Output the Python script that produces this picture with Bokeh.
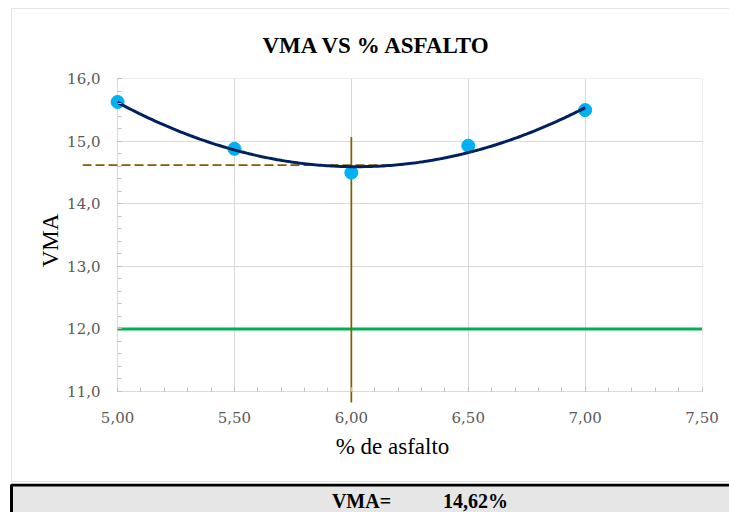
import numpy as np
from bokeh.plotting import figure
from bokeh.layouts import column
from bokeh.models import SingleIntervalTicker, Title
from bokeh.core.properties import value
from bokeh.embed import file_html
from bokeh.resources import INLINE

# ---------------- data ----------------
asfalto = [5.0, 5.5, 6.0, 6.5, 7.0]
vma = [15.63, 14.88, 14.50, 14.93, 15.50]
vma_optimo = 14.62
asfalto_optimo = 6.0
vma_minimo = 12.0
guia_h_x = [4.85, 6.24]      # extent of dashed guide line
guia_v_y = [10.80, 15.07]    # extent of vertical guide line
x_ticks = [5.0, 5.5, 6.0, 6.5, 7.0, 7.5]
x_tick_labels = ["5,00", "5,50", "6,00", "6,50", "7,00", "7,50"]
y_ticks = [11, 12, 13, 14, 15, 16]
y_tick_labels = ["11,0", "12,0", "13,0", "14,0", "15,0", "16,0"]

# polynomial (2nd order) trendline of the measured points
coef = np.polyfit(asfalto, vma, 2)
xs = np.linspace(min(asfalto), max(asfalto), 200)
ys = np.polyval(coef, xs)

SERIF = "Liberation Serif"
TICKFONT = "DejaVu Serif"
GRID = "#D9D9D9"
TICK = "#BFBFBF"

p = figure(width=717, height=472,
           x_range=(4.85, 7.502), y_range=(10.824, 16.005),
           output_backend="svg", toolbar_location=None,
           min_border_left=70, min_border_right=27,
           min_border_top=69, min_border_bottom=79,
           margin=(9, 0, 2, 12), frame_align=False)
p.outline_line_color = None
p.background_fill_color = "white"
p.border_fill_color = "white"
p.styles = {"outline": "1px solid #E3E3E3"}

p.title = Title(text="VMA VS % ASFALTO", align="left", offset=180, standoff=41,
                text_font=SERIF, text_font_size="23px", text_font_style="bold",
                text_color="black")

xa = p.xaxis[0]
xa.ticker = SingleIntervalTicker(interval=0.5, num_minor_ticks=5)
xa.bounds = (x_ticks[0], x_ticks[-1])
xa.major_label_overrides = dict(zip(x_ticks, x_tick_labels))
xa.axis_label = "% de asfalto"
xa.major_tick_out = -11
xa.major_tick_in = 15
xa.minor_tick_out = -11
xa.minor_tick_in = 15
xa.major_label_standoff = 20
xa.axis_label_standoff = 8

ya = p.yaxis[0]
ya.ticker = SingleIntervalTicker(interval=1, num_minor_ticks=5)
ya.bounds = (y_ticks[0], y_ticks[-1])
ya.major_label_overrides = dict(zip(y_ticks, y_tick_labels))
ya.axis_label = "VMA"
ya.major_tick_out = -35
ya.major_tick_in = 39
ya.minor_tick_out = -35
ya.minor_tick_in = 39
ya.major_label_standoff = 17
ya.axis_label_standoff = 1

for ax in (xa, ya):
    ax.axis_line_color = None
    ax.major_tick_line_color = TICK
    ax.minor_tick_line_color = TICK
    ax.major_label_text_font = TICKFONT
    ax.major_label_text_font_size = "15px"
    ax.major_label_text_color = "#595959"
    ax.axis_label_text_font = SERIF
    ax.axis_label_text_font_size = "23px"
    ax.axis_label_text_font_style = "normal"
    ax.axis_label_text_color = "black"

p.xgrid.grid_line_color = GRID
p.ygrid.grid_line_color = GRID
p.xgrid.cross_bounds = (y_ticks[0], y_ticks[-1])
p.ygrid.cross_bounds = (x_ticks[0], x_ticks[-1])

# minimum VMA line
p.line(x=[x_ticks[0], x_ticks[-1]], y=[vma_minimo, vma_minimo],
       line_color="#00B050", line_width=3)
# guide lines
p.line(x=guia_h_x, y=[vma_optimo, vma_optimo], line_color="#7F6000",
       line_width=1.75, line_dash="9 4")
p.line(x=[asfalto_optimo, asfalto_optimo], y=guia_v_y, line_color="#7F6000",
       line_width=1.75)
# measured points
p.scatter(x=asfalto, y=vma, size=13, fill_color="#00B0F0", line_color="#00B0F0")
# trendline
p.line(x=xs, y=ys, line_color="#002060", line_width=3)

# ---------------- result box ----------------
p2 = figure(width=729, height=29, x_range=(0, 729), y_range=(0, 29),
            output_backend="svg", toolbar_location=None,
            x_axis_location=None, y_axis_location=None, min_border=0,
            frame_align=False, margin=(0, 0, 0, 0))
p2.grid.visible = False
p2.outline_line_color = None
p2.border_fill_color = "white"
p2.background_fill_color = "white"
p2.quad(left=11, right=760, bottom=-8, top=27.5, fill_color="#E6E6E6",
        line_color="black", line_width=3)
p2.text(x=[361], y=[11.5], text=["VMA="], text_align="center", text_baseline="middle",
        text_font=value(SERIF), text_font_size="20px", text_font_style="bold",
        text_color="black")
p2.text(x=[475], y=[11.5], text=[f"{vma_optimo:.2f}%".replace(".", ",")],
        text_align="center", text_baseline="middle",
        text_font=value(SERIF), text_font_size="20px", text_font_style="bold",
        text_color="black")

layout = column(p, p2, spacing=0)
open("out.html", "w").write(file_html(layout, INLINE))
